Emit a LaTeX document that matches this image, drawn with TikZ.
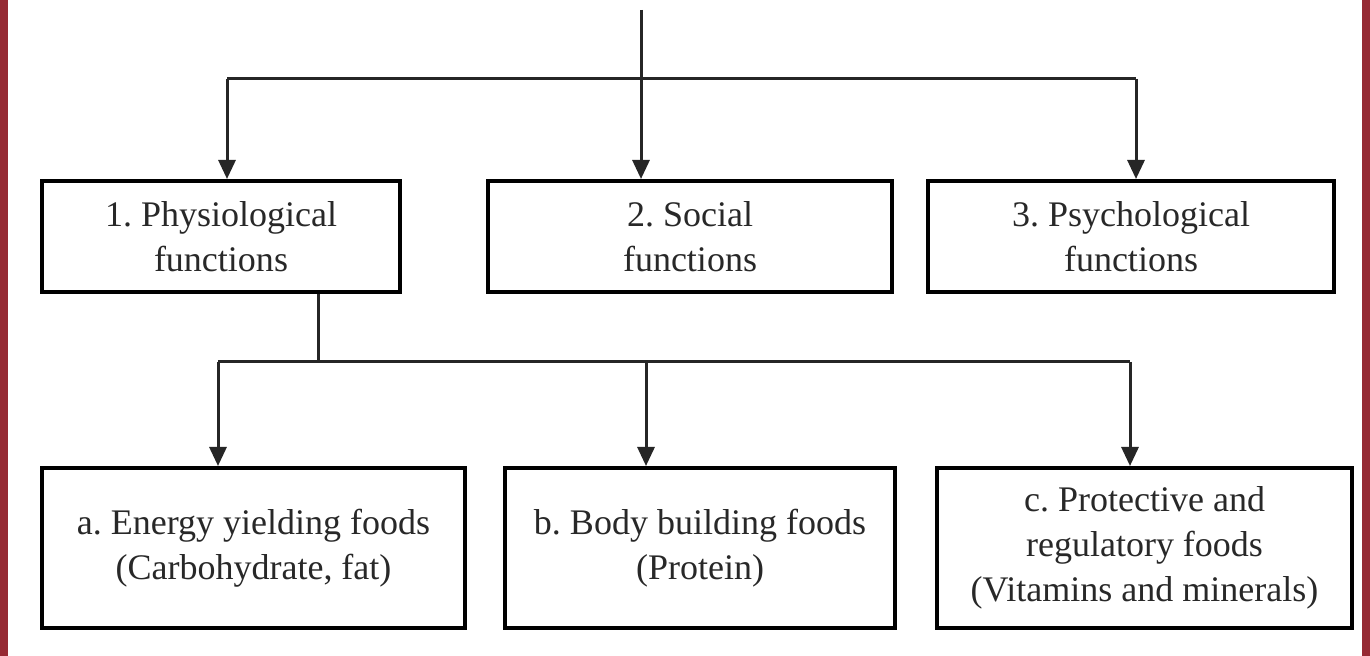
\documentclass[tikz,border=0pt]{standalone}
\usepackage{fontspec}
\setmainfont{Liberation Serif}
\definecolor{FrameRed}{RGB}{150,42,52}
\definecolor{InkGray}{RGB}{40,40,40}
\usepackage{tikz}
\usetikzlibrary{arrows.meta, positioning, calc}
\frenchspacing

\begin{document}
\begin{tikzpicture}[x=0.5pt, y=-0.5pt,
    box/.style={draw=black, line width=2pt, align=center, inner sep=0pt,
                text=InkGray, font=\fontsize{18}{22.5}\selectfont},
    link/.style={line width=1.5pt, black!85},
    arr/.style={link, -{Triangle[length=9.5pt, width=8.5pt]}}]
      \useasboundingbox (0,0) rectangle (1370,656);
      \fill[white] (0,0) rectangle (1370,656);
      \fill[FrameRed] (0,0) rectangle (8,656);
      \fill[FrameRed] (1362,0) rectangle (1370,656);

      % first row
      \node[box, minimum width=179pt, minimum height=55.5pt] (phys) at (221,236.5)
            {1. Physiological\\functions};
      \node[box, minimum width=202pt, minimum height=55.5pt] (soc) at (690,236.5)
            {2. Social\\functions};
      \node[box, minimum width=203pt, minimum height=55.5pt] (psy) at (1131,236.5)
            {3. Psychological\\functions};

      % second row
      \node[box, minimum width=211.5pt, minimum height=80pt] (energy) at (253.5,548)
            {a. Energy yielding foods\\(Carbohydrate, fat)};
      \node[box, minimum width=195pt, minimum height=80pt] (body) at (700,548)
            {b. Body building foods\\(Protein)};
      \node[box, minimum width=207.5pt, minimum height=80pt] (prot) at (1144.5,548)
            {c. Protective and\\regulatory foods\\(Vitamins and minerals)};

      \coordinate (top) at (641,10);
      \coordinate (t1) at (227,79);
      \coordinate (t3) at (1136,79);
      \draw[link] (t1) -- (t3);
      \draw[arr] (top) -- (top |- soc.north);
      \draw[arr] (t1) -- (t1 |- phys.north);
      \draw[arr] (t3) -- (t3 |- psy.north);

      \coordinate (s0) at (318,362);
      \coordinate (s1) at (218,362);
      \coordinate (s2) at (646,362);
      \coordinate (s3) at (1130,362);
      \draw[link] (s0 |- phys.south) -- (s0);
      \draw[link] (s1) -- (s3);
      \foreach \s/\n in {s1/energy, s2/body, s3/prot}
        \draw[arr] (\s) -- (\s |- \n.north);
\end{tikzpicture}
\end{document}
